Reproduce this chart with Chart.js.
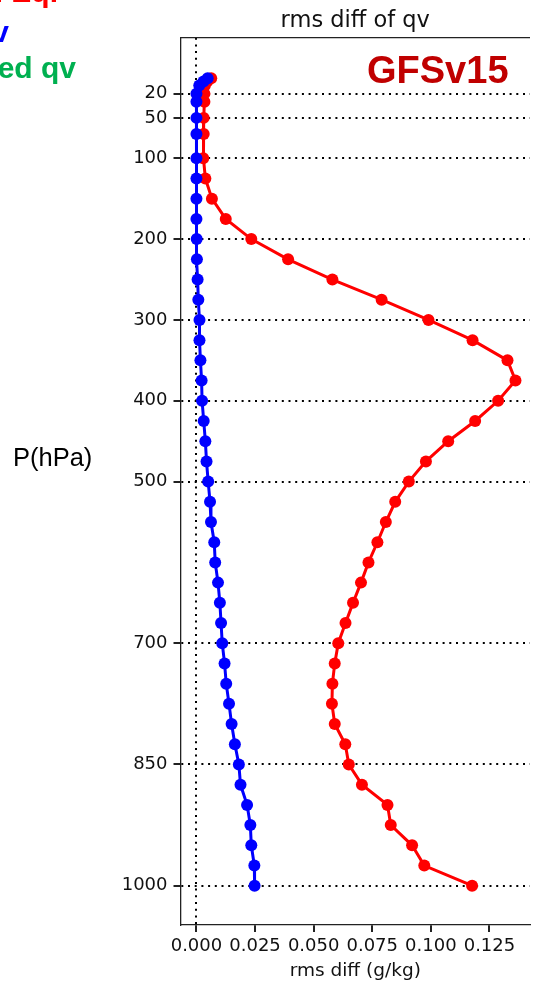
<!DOCTYPE html>
<html>
<head>
<meta charset="utf-8">
<script src="https://cdn.jsdelivr.net/npm/chart.js@4"></script>
<style>
html, body { margin: 0; padding: 0; overflow: hidden; background: #fff; }
canvas { display: block; }
</style>
</head>
<body>
<canvas id="qv" width="536" height="983" style="width:536px;height:983px"></canvas>
<script>
// pressure levels (hPa)
var levels = [1, 5, 10, 20, 30, 50, 70, 100, 125, 150, 175, 200, 225, 250, 275, 300, 325, 350, 375, 400,
  425, 450, 475, 500, 525, 550, 575, 600, 625, 650, 675, 700, 725, 750, 775, 800, 825, 850, 875, 900,
  925, 950, 975, 1000];

// rms diff (g/kg), red curve
var redValues = [0.0063, 0.0046, 0.0036, 0.0034, 0.0034, 0.0031, 0.0031, 0.0029, 0.0038, 0.0066, 0.0125,
  0.0234, 0.0391, 0.0580, 0.0790, 0.0990, 0.1178, 0.1327, 0.1361, 0.1287, 0.1189, 0.1074, 0.0979, 0.0906,
  0.0848, 0.0808, 0.0772, 0.0734, 0.0702, 0.0668, 0.0636, 0.0605, 0.0590, 0.0580, 0.0578, 0.0590, 0.0635,
  0.0650, 0.0706, 0.0815, 0.0829, 0.0920, 0.0972, 0.1176];

// rms diff (g/kg), blue curve
var blueValues = [0.0048, 0.0030, 0.0012, 0.0000, 0.0000, 0.0000, 0.0000, 0.0000, 0.0000, 0.0000, 0.0000,
  0.0001, 0.0002, 0.0005, 0.0008, 0.0013, 0.0013, 0.0017, 0.0022, 0.0024, 0.0031, 0.0038, 0.0043, 0.0050,
  0.0058, 0.0062, 0.0076, 0.0080, 0.0092, 0.0100, 0.0105, 0.0110, 0.0120, 0.0127, 0.0139, 0.0150, 0.0164,
  0.0181, 0.0188, 0.0216, 0.0230, 0.0234, 0.0247, 0.0248];

var yTicks = [20, 50, 100, 200, 300, 400, 500, 700, 850, 1000];
var xTicks = [0, 0.025, 0.05, 0.075, 0.1, 0.125];

function pairs(vals) {
  return vals.map(function (v, i) { return {x: v, y: levels[i]}; });
}

// extra texts: title, side label, legend fragments, model name
var extraText = {
  id: 'extraText',
  afterDraw: function (chart) {
    var c = chart.ctx, a = chart.chartArea;
    c.save();
    // top frame line
    c.strokeStyle = '#222';
    c.lineWidth = 1.3;
    c.beginPath();
    c.moveTo(a.left, a.top);
    c.lineTo(a.right, a.top);
    c.stroke();

    c.fillStyle = '#111';
    c.textAlign = 'center';
    c.textBaseline = 'middle';
    c.font = '22.5px "DejaVu Sans"';
    c.fillText('rms diff of qv', (a.left + a.right) / 2, 21);

    c.textAlign = 'left';
    c.textBaseline = 'alphabetic';
    c.font = '25.5px "Liberation Sans"';
    c.fillStyle = '#000';
    c.fillText('P(hPa)', 13, 466);

    c.font = 'bold 38px "Liberation Sans"';
    c.fillStyle = '#c00000';
    c.fillText('GFSv15', 367, 83);

    c.textAlign = 'right';
    c.font = 'bold 30px "Liberation Sans"';
    c.fillStyle = '#ff0000';
    c.fillText('w/ sat. adj. Eq.', 58, 2);
    c.fillStyle = '#0000ff';
    c.fillText('qv', 9, 42);
    c.fillStyle = '#00b050';
    c.fillText('perturbed qv', 76, 78);
    c.restore();
  }
};

var ctx = document.getElementById('qv').getContext('2d');

var qvChart = new Chart(ctx, {
  type: 'scatter',
  data: {
    datasets: [{
      data: pairs(blueValues),
      showLine: true,
      borderColor: '#0000ff',
      backgroundColor: '#0000ff',
      borderWidth: 3,
      pointRadius: 6,
      pointBorderWidth: 0
    }, {
      data: pairs(redValues),
      showLine: true,
      borderColor: '#ff0000',
      backgroundColor: '#ff0000',
      borderWidth: 3,
      pointRadius: 6,
      pointBorderWidth: 0
    }]
  },
  options: {
    responsive: false,
    animation: false,
    events: [],
    layout: { padding: { left: 100.5, right: 1, top: 37.7, bottom: 0 } },
    plugins: { legend: { display: false }, tooltip: { enabled: false } },
    scales: {
      x: {
        type: 'linear',
        min: -0.0068,
        max: 0.1423,
        z: 1,
        afterBuildTicks: function (s) { s.ticks = xTicks.map(function (v) { return {value: v}; }); },
        afterFit: function (s) { s.height = 58; },
        grid: {
          color: function (c) { return c.tick && c.tick.value === 0 ? '#000' : 'rgba(0,0,0,0)'; },
          lineWidth: 2,
          tickColor: '#222',
          tickLength: 7,
          tickBorderDash: []
        },
        border: { color: '#222', width: 1.3, dash: [2, 4.7] },
        ticks: {
          color: '#111',
          padding: 4,
          maxRotation: 0,
          font: { family: 'DejaVu Sans', size: 18 },
          callback: function (v) { return v.toFixed(3); }
        },
        title: {
          display: true,
          text: 'rms diff (g/kg)',
          color: '#111',
          font: { family: 'DejaVu Sans', size: 18.5 },
          padding: { top: 0, bottom: 1 }
        }
      },
      y: {
        type: 'linear',
        reverse: true,
        min: -49.2,
        max: 1048.6,
        z: 1,
        afterBuildTicks: function (s) { s.ticks = yTicks.map(function (v) { return {value: v}; }); },
        afterFit: function (s) { s.width = 80; },
        grid: {
          color: '#000',
          lineWidth: 2,
          tickColor: '#222',
          tickLength: 7,
          tickBorderDash: []
        },
        border: { color: '#222', width: 1.3, dash: [2, 4.7] },
        ticks: {
          color: '#111',
          padding: 6,
          font: { family: 'DejaVu Sans', size: 18 },
          callback: function (v) { return String(v); }
        }
      }
    }
  },
  plugins: [extraText]
});
</script>
</body>
</html>
